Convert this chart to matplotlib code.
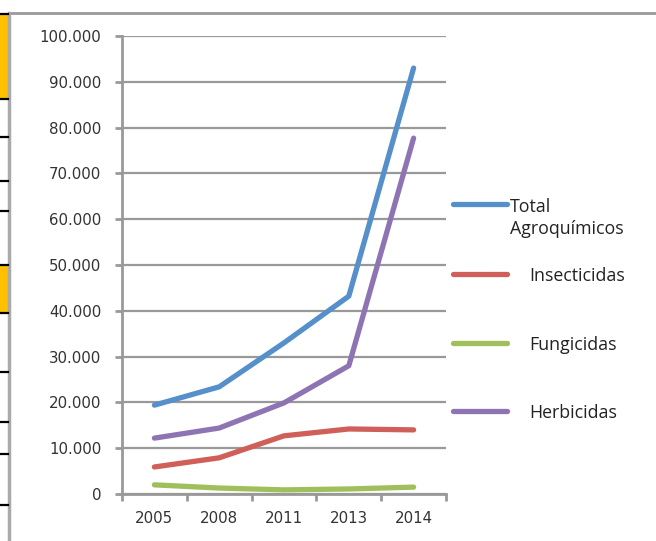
import matplotlib.pyplot as plt
import numpy as np
from matplotlib.lines import Line2D
from matplotlib.patches import Rectangle

years = ['2005', '2008', '2011', '2013', '2014']
total = [19400, 23400, 33000, 43200, 93000]
insecticidas = [5900, 7900, 12700, 14200, 14000]
fungicidas = [2000, 1300, 900, 1100, 1500]
herbicidas = [12200, 14400, 19900, 28000, 77700]

names = ['Total\nAgroquímicos', 'Insecticidas', 'Fungicidas', 'Herbicidas']
colors = ['#5590cb', '#cf5f58', '#a0bf5c', '#8f74b3']
series = [total, insecticidas, fungicidas, herbicidas]

W, H = 656, 541
fig = plt.figure(figsize=(W / 100, H / 100), dpi=100)
plt.rcParams['font.family'] = ['DejaVu Sans']

# plot area in pixel terms
x0, x1, ytop, ybot = 122, 446, 36, 494
ax = fig.add_axes([x0 / W, 1 - ybot / H, (x1 - x0) / W, (ybot - ytop) / H])

x = np.arange(len(years))
for vals, c in zip(series, colors):
    ax.plot(x, vals, color=c, linewidth=3.8, solid_capstyle='round', zorder=3)

gray = '#999999'
ax.set_xlim(-0.5, len(years) - 0.5)
ax.set_ylim(0, 100000)
ax.set_yticks(np.arange(0, 100001, 10000))
ax.set_yticklabels(['0'] + ['{:,}'.format(v).replace(',', '.') for v in range(10000, 100001, 10000)])
ax.set_xticks(np.arange(-0.5, len(years), 1.0))
ax.set_xticklabels([])
ax.set_xticks(x, minor=True)
ax.set_xticklabels(years, minor=True)
ax.yaxis.grid(True, color=gray, linewidth=1.6)
ax.set_axisbelow(True)

for s in ['top', 'right']:
    ax.spines[s].set_visible(False)
for s in ['left', 'bottom']:
    ax.spines[s].set_color(gray)
    ax.spines[s].set_linewidth(2)
ax.tick_params(axis='both', which='major', color=gray, width=2, length=5,
               labelsize=10.8, labelcolor='#333333')
ax.tick_params(axis='y', pad=10)
ax.tick_params(axis='x', which='minor', length=0, pad=12, labelsize=10.8,
               labelcolor='#333333')

# legend drawn beside the plot
leg_y = [204, 274, 343, 411]
lfont = dict(fontsize=12.8, family='Open Sans', color='#222222')
for name, c, ly in zip(names, colors, leg_y):
    fy = 1 - ly / H
    fig.add_artist(Line2D([453 / W, 507 / W], [fy, fy], color=c, linewidth=3.8,
                          solid_capstyle='round'))
    if '\n' in name:
        first, second = name.split('\n')
        fig.text(510 / W, 1 - 207 / H, first, va='center', **lfont)
        fig.text(510 / W, 1 - 229 / H, second, va='center', **lfont)
    else:
        fig.text(529 / W, 1 - (ly + 2) / H, name, va='center', **lfont)

# sheet frame around the chart
fig.add_artist(Line2D([9 / W, 1], [1 - 13 / H, 1 - 13 / H], color='#999999', linewidth=2))
fig.add_artist(Line2D([9 / W, 9 / W], [0, 1 - 13 / H], color='#aaaaaa', linewidth=2.5))
for top, bot in [(14, 99), (265, 313)]:
    fig.add_artist(Rectangle((0, 1 - bot / H), 8 / W, (bot - top) / H,
                             facecolor='#ffc000', edgecolor='none'))
for ly in [14, 99, 137, 181, 211, 265, 313, 372, 422, 454, 505]:
    fig.add_artist(Line2D([0, 8 / W], [1 - ly / H, 1 - ly / H], color='black', linewidth=1.6))

fig.savefig('out.png', dpi=100)
